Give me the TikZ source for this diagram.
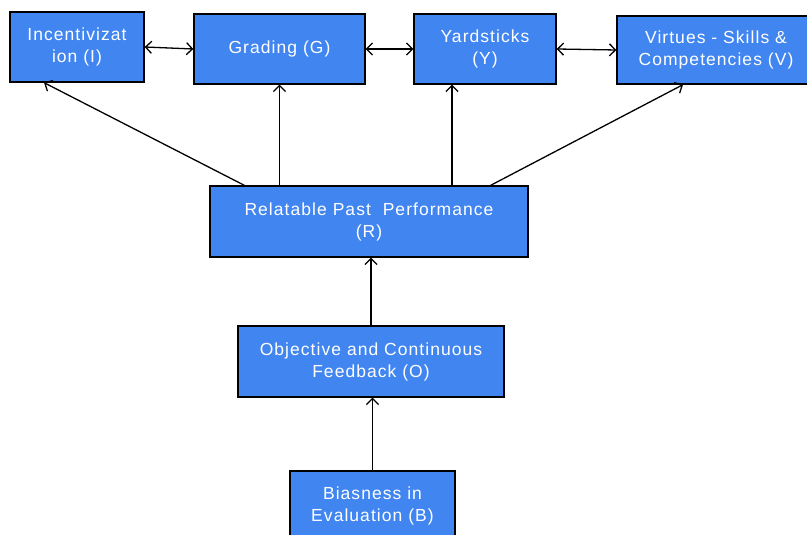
\documentclass[tikz,border=0pt]{standalone}
\usepackage{fontspec}
\setmainfont{Liberation Sans}[LetterSpace=6]
\usetikzlibrary{arrows.meta}
\definecolor{boxblue}{RGB}{65,133,240}
\begin{document}
\begin{tikzpicture}[x=1pt,y=1pt,font=\fontsize{17.5}{22}\selectfont,
  >={Straight Barb[length=6pt,width=12pt]},
  blk/.style={draw=black,line width=1.3pt,fill=boxblue,text=white,align=center,inner sep=0pt},
  link/.style={line width=1.3pt}]
 \useasboundingbox (0,0) rectangle (807,535);
 \foreach \nm/\cx/\cy/\w/\h/\lab in {I/77/488/134/70/{Incentivizat\\ion (I)},
   G/279.5/486/171/70/{Grading (G)},Y/485/486/142/70/{Yardsticks\\(Y)},
   V/716/485/198/68/{Virtues - Skills \&\\Competencies (V)},
   R/369/313.5/318/71/{Relatable Past\ \ Performance\\(R)},
   O/371/173.5/266/71/{Objective and Continuous\\Feedback (O)},
   B/372.5/29/165/70/{Biasness in\\Evaluation (B)}} {
  \node[blk,minimum width=\w pt,minimum height=\h pt] (\nm) at (\cx,\cy) {\lab};
 }
 \draw[link,<->] (I.east) -- (G.west);
 \draw[link,<->] (G.east) -- (Y.west);
 \draw[link,<->] (Y.east) -- (V.west);
 \draw[link,->] ([xshift=35pt]R.north west) -- ([xshift=-33pt]I.south);
 \draw[link,->] (R.north -| G.south) -- (G.south);
 \draw[link,->] ([xshift=-33pt]Y.south |- R.north) -- ([xshift=-33pt]Y.south);
 \draw[link,->] ([xshift=-38pt]R.north east) -- ([xshift=-33pt]V.south);
 \draw[link,->] (O.north) -- (O.north |- R.south);
 \draw[link,->] (B.north) -- (B.north |- O.south);
\end{tikzpicture}
\end{document}
